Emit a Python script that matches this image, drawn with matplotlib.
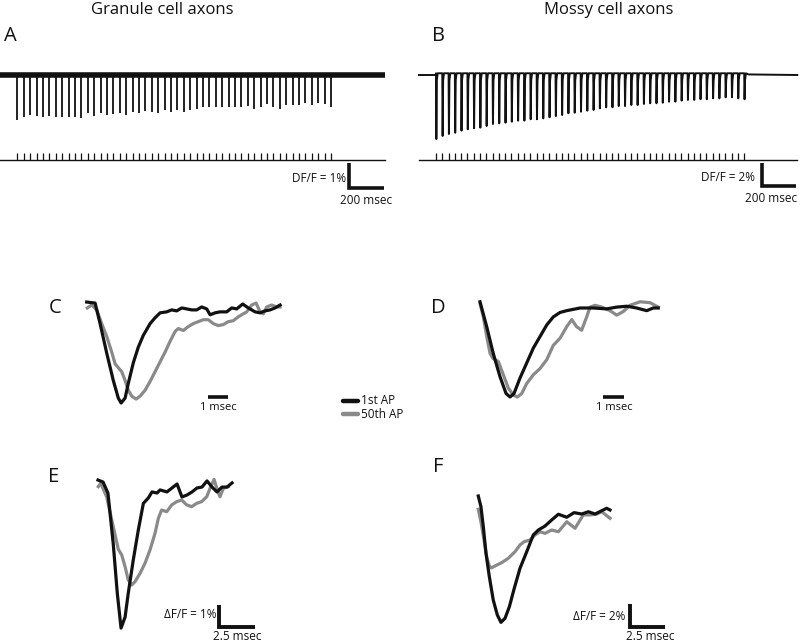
import matplotlib
matplotlib.use("Agg")
import matplotlib.pyplot as plt
import numpy as np

plt.rcParams['font.family'] = ['Open Sans', 'DejaVu Sans']

# ---------------- data ----------------
panel_titles = ["Granule cell axons", "Mossy cell axons"]
panel_letters = ["A", "B", "C", "D", "E", "F"]
legend_labels = ["1st AP", "50th AP"]

ap_interval_ms = 37.0
n_aps = 50
record_window_ms = [-100.0, 2125.0]

# spike amplitudes (% dF/F, downward) in the 50-AP train
granule_amps = [1.80, 1.68, 1.60, 1.64, 1.68, 1.64, 1.68, 1.68, 1.68, 1.68,
                1.72, 1.52, 1.64, 1.52, 1.60, 1.56, 1.52, 1.60, 1.48, 1.52,
                1.44, 1.48, 1.52, 1.40, 1.48, 1.40, 1.48, 1.40, 1.36, 1.28,
                1.28, 1.28, 1.28, 1.28, 1.28, 1.28, 1.24, 1.36, 1.28, 1.16,
                1.28, 1.36, 1.20, 1.20, 1.20, 1.12, 1.20, 1.12, 1.16, 1.28]
mossy_amps = [5.57, 5.30, 5.13, 5.02, 4.84, 4.72, 4.63, 4.58, 4.43, 4.26,
              4.20, 4.15, 4.06, 3.97, 3.97, 3.85, 3.85, 3.77, 3.68, 3.57,
              3.48, 3.33, 3.28, 3.19, 3.10, 3.04, 2.90, 2.81, 2.81, 2.70,
              2.70, 2.61, 2.61, 2.52, 2.46, 2.46, 2.41, 2.32, 2.32, 2.23,
              2.17, 2.17, 2.11, 2.11, 2.03, 2.03, 1.94, 1.94, 2.03, 2.11]

# C: granule cell, normalized (time ms, normalized dF/F)
c_first_t = [0.00, 0.42, 0.67, 1.00, 1.33, 1.58, 1.72, 1.92, 2.08, 2.33, 2.58, 2.83,
             3.17, 3.42, 3.67, 4.00, 4.25, 4.50, 4.75, 5.00, 5.25, 5.50, 5.75, 6.00,
             6.17, 6.42, 6.67, 7.00, 7.25, 7.50, 7.80, 8.08, 8.42, 8.67, 8.92, 9.17,
             9.42, 9.67]
c_first_v = [0.03, 0.02, -0.19, -0.49, -0.77, -0.95, -1.00, -0.95, -0.80, -0.59, -0.43, -0.31,
             -0.19, -0.13, -0.08, -0.07, -0.05, -0.06, -0.03, -0.04, -0.05, -0.05, -0.02, -0.04,
             -0.10, -0.08, -0.07, -0.07, -0.03, -0.04, 0.01, -0.03, -0.07, -0.08, -0.06, -0.05,
             -0.03, 0.00]
c_last_t = [0.03, 0.25, 0.50, 0.75, 1.00, 1.25, 1.42, 1.58, 1.75, 1.92, 2.08, 2.25, 2.47,
            2.67, 2.92, 3.17, 3.42, 3.67, 3.92, 4.17, 4.42, 4.58, 4.83, 5.08, 5.33, 5.58,
            5.83, 6.08, 6.33, 6.58, 6.83, 7.08, 7.33, 7.58, 7.83, 8.00, 8.25, 8.47, 8.67,
            8.83, 9.00, 9.25, 9.50, 9.67]
c_last_v = [-0.03, 0.00, -0.05, -0.19, -0.32, -0.48, -0.60, -0.64, -0.68, -0.77, -0.87, -0.93, -0.96,
            -0.93, -0.87, -0.78, -0.68, -0.58, -0.48, -0.37, -0.27, -0.24, -0.26, -0.22, -0.19, -0.17,
            -0.15, -0.15, -0.19, -0.21, -0.20, -0.17, -0.16, -0.12, -0.09, -0.07, 0.00, 0.02, -0.07,
            -0.09, -0.02, 0.00, -0.02, -0.02]

# D: mossy cell, normalized
d_first_t = [0.00, 0.32, 0.63, 0.95, 1.24, 1.43, 1.62, 1.90, 2.22, 2.54, 2.86, 3.18, 3.49,
             3.81, 4.13, 4.76, 5.40, 6.03, 6.51, 6.99, 7.46, 7.94, 8.25, 8.49]
d_first_v = [0.07, -0.21, -0.51, -0.77, -0.96, -1.00, -0.96, -0.79, -0.62, -0.45, -0.32, -0.19, -0.10,
             -0.05, -0.03, 0.00, 0.00, -0.01, 0.01, 0.02, 0.00, -0.03, 0.00, 0.00]
d_last_t = [0.00, 0.16, 0.32, 0.48, 0.63, 0.87, 1.11, 1.35, 1.59, 1.78, 1.99, 2.22, 2.54,
            2.86, 3.18, 3.49, 3.81, 4.13, 4.37, 4.60, 4.84, 5.08, 5.24, 5.48, 5.80, 6.19,
            6.51, 6.82, 7.14, 7.62, 8.10, 8.49]
d_last_v = [0.05, -0.10, -0.32, -0.51, -0.57, -0.60, -0.75, -0.90, -0.98, -1.00, -0.96, -0.85, -0.75,
            -0.68, -0.58, -0.42, -0.34, -0.21, -0.13, -0.21, -0.25, -0.10, 0.01, 0.03, 0.01, -0.03,
            -0.08, -0.04, 0.03, 0.07, 0.06, 0.01]

# E: granule cell, absolute (% dF/F)
e_first_t = [0.00, 0.35, 0.69, 1.06, 1.34, 1.60, 1.88, 2.10, 2.45, 2.80, 3.15, 3.49, 3.75, 4.10,
             4.31, 4.79, 5.14, 5.49, 5.83, 6.18, 6.53, 6.88, 7.22, 7.57, 7.92, 8.26, 8.61, 8.96, 9.31]
e_first_v = [0.18, 0.09, -0.41, -2.73, -4.97, -6.55, -6.05, -4.97, -3.45, -2.09, -0.88, -0.64, -0.36,
             -0.41, -0.27, -0.36, -0.18, 0.00, -0.59, -0.50, -0.36, -0.18, -0.14, 0.14, -0.14, -0.36,
             -0.14, -0.14, 0.05]
e_last_t = [0.02, 0.19, 0.60, 1.06, 1.41, 1.65, 1.88, 2.10, 2.34, 2.57, 2.92, 3.26, 3.61, 3.96,
            4.19, 4.42, 4.77, 5.12, 5.47, 5.81, 6.16, 6.51, 6.85, 7.20, 7.55, 7.78, 8.06, 8.29,
            8.47, 8.70, 9.05]
e_last_v = [-0.12, 0.03, -0.58, -1.94, -2.97, -3.23, -3.76, -4.36, -4.59, -4.44, -4.06, -3.61, -3.00,
            -2.24, -1.56, -1.18, -1.26, -0.95, -0.80, -0.73, -0.95, -1.03, -0.88, -0.80, -0.58, -0.20,
            0.21, -0.27, -0.58, -0.20, -0.12]

# F: mossy cell, absolute (% dF/F)
f_first_t = [0.02, 0.21, 0.38, 0.57, 0.81, 1.09, 1.38, 1.64, 1.93, 2.24, 2.59, 3.00, 3.48, 3.95,
             4.31, 4.79, 5.26, 5.74, 6.34, 6.86, 7.41, 7.88, 8.36, 8.84, 9.19, 9.43]
f_first_v = [1.22, 0.29, -1.45, -3.77, -5.80, -7.83, -9.13, -9.77, -9.42, -8.41, -6.81, -5.07, -3.63,
             -2.17, -1.74, -1.39, -0.87, -0.37, -0.63, -0.23, -0.35, -0.15, -0.35, -0.06, 0.15, 0.00]
f_last_t = [0.02, 0.21, 0.43, 0.62, 0.81, 0.95, 1.21, 1.69, 2.16, 2.64, 3.00, 3.29, 3.71, 4.07,
            4.43, 4.79, 5.26, 5.74, 6.34, 6.93, 7.52, 8.00, 8.48, 8.84, 9.43]
f_last_v = [0.06, -1.02, -2.61, -4.06, -4.87, -5.04, -4.87, -4.58, -4.20, -3.63, -3.04, -2.76, -2.61,
            -2.17, -1.89, -2.03, -1.74, -1.89, -1.02, -1.59, -0.43, -0.43, -0.35, -0.15, -0.72]

scalebar_train = {"A": (200.0, 1.0, "DF/F = 1%"), "B": (200.0, 2.0, "DF/F = 2%")}
scalebar_zoom = {"C": 1.0, "D": 1.0}
scalebar_abs = {"E": (2.5, 1.0, "\u0394F/F = 1%"), "F": (2.5, 2.0, "\u0394F/F = 2%")}

# ---------------- layout ----------------
W, H = 800, 642
fig = plt.figure(figsize=(W / 100, H / 100), dpi=100)
BLACK = "#111111"
GRAY = "#8a8a8a"


class Panel:
    """Axes placed in pixel box; data origin at pixel (x0, y0) with sx, sy px per unit."""
    def __init__(self, box, x0, y0, sx, sy):
        left, top, width, height = box
        self.ax = fig.add_axes([left / W, 1 - (top + height) / H, width / W, height / H])
        self.ax.set_xlim((left - x0) / sx, (left + width - x0) / sx)
        self.ax.set_ylim((y0 - (top + height)) / sy, (y0 - top) / sy)
        self.ax.axis("off")
        self.x0, self.y0, self.sx, self.sy = x0, y0, sx, sy

    def dx(self, px):
        return (px - self.x0) / self.sx

    def dy(self, py):
        return (self.y0 - py) / self.sy


def ftext(x, y, s, size, ha="center", va="center", **kw):
    fig.text(x / W, 1 - y / H, s, fontsize=size, ha=ha, va=va, color=BLACK, **kw)


# titles and letters
ftext(162, 10, panel_titles[0], 12)
ftext(609, 10, panel_titles[1], 12)
letter_pos = {"A": (10, 36), "B": (438, 36), "C": (55, 308), "D": (438, 308),
              "E": (54, 477), "F": (438, 467)}
for k in panel_letters:
    ftext(*letter_pos[k], k, 14.5)

spike_times = np.arange(n_aps) * ap_interval_ms


def train_panel(pan, amps, kind, sb_key, sb_corner, sb_text_right, sb_text_y, ms_label_x, ms_label_y,
                stim_px, stim_line_px, ms_ha="center"):
    ax = pan.ax
    if kind == "vlines":
        ax.plot(record_window_ms, [0, 0], color=BLACK, lw=4.0, solid_capstyle="butt", clip_on=False)
        ax.vlines(spike_times, -0.08, -np.array(amps), color=BLACK, lw=1.3, clip_on=False)
    else:
        tt, vv = [record_window_ms[0], -2.0], [0.0, 0.0]
        for ti, ai in zip(spike_times, amps):
            tt += [ti, ti + 2.0, ti + 5.0, ti + 10.0]
            vv += [0.15, -ai, -0.45, 0.15]
        tt += [spike_times[-1] + 25.0, record_window_ms[1]]
        vv += [0.05, 0.0]
        ax.plot(tt, vv, color=BLACK, lw=1.4, clip_on=False)
    # stimulus row
    ys_top, ys_bot = pan.dy(stim_px), pan.dy(stim_line_px)
    ax.plot(record_window_ms, [ys_bot, ys_bot], color=BLACK, lw=1.0, clip_on=False)
    ax.vlines(spike_times, ys_bot, ys_top, color=BLACK, lw=0.9, clip_on=False)
    # scale bar
    t_len, v_len, label = scalebar_train[sb_key]
    cx, cy = pan.dx(sb_corner[0]), pan.dy(sb_corner[1])
    ax.plot([cx, cx, cx + t_len], [cy + v_len, cy, cy], color=BLACK, lw=2.6,
            solid_joinstyle="miter", solid_capstyle="butt", clip_on=False)
    ftext(sb_text_right, sb_text_y, label, 8.5, ha="right")
    ftext(ms_label_x, ms_label_y, "%d msec" % t_len, 8.5, ha=ms_ha)


pA = Panel((0, 55, 400, 160), x0=17.3, y0=75, sx=6.40 / ap_interval_ms, sy=25)
train_panel(pA, granule_amps, "vlines", "A", (349, 188), 346, 179, 366, 200, 153, 160)

pB = Panel((410, 55, 390, 160), x0=436, y0=75, sx=6.29 / ap_interval_ms, sy=11.5)
train_panel(pB, mossy_amps, "hook", "B", (762, 186), 755, 178, 797, 199, 153, 160, ms_ha="right")


def zoom_panel(pan, t1, v1, t2, v2):
    ax = pan.ax
    ax.plot(t2, v2, color=GRAY, lw=2.3, solid_joinstyle="round", clip_on=False)
    ax.plot(t1, v1, color=BLACK, lw=2.3, solid_joinstyle="round", clip_on=False)


pC = Panel((70, 290, 230, 130), x0=86.7, y0=305, sx=20, sy=98)
zoom_panel(pC, c_first_t, c_first_v, c_last_t, c_last_v)
pC.ax.plot([pC.dx(208), pC.dx(208) + scalebar_zoom["C"]], [pC.dy(397)] * 2, color=BLACK, lw=2.6,
           solid_capstyle="butt", clip_on=False)
ftext(218, 408, "%d msec" % scalebar_zoom["C"], 8)

pD = Panel((460, 290, 230, 130), x0=480, y0=308, sx=21, sy=89)
zoom_panel(pD, d_first_t, d_first_v, d_last_t, d_last_v)
pD.ax.plot([pD.dx(603), pD.dx(603) + scalebar_zoom["D"]], [pD.dy(397)] * 2, color=BLACK, lw=2.6,
           solid_capstyle="butt", clip_on=False)
ftext(614, 408, "%d msec" % scalebar_zoom["D"], 8)

pE = Panel((70, 460, 230, 180), x0=98, y0=484, sx=14.4, sy=22)
zoom_panel(pE, e_first_t, e_first_v, e_last_t, e_last_v)
pF = Panel((450, 450, 250, 190), x0=478, y0=510, sx=14, sy=11.5)
zoom_panel(pF, f_first_t, f_first_v, f_last_t, f_last_v)

for pan, key, corner, tr, ty, mx in [(pE, "E", (219, 627), 216, 615, 237),
                                     (pF, "F", (630, 627), 625, 616, 650)]:
    t_len, v_len, label = scalebar_abs[key]
    cx, cy = pan.dx(corner[0]), pan.dy(corner[1])
    pan.ax.plot([cx, cx, cx + t_len], [cy + v_len, cy, cy], color=BLACK, lw=2.8,
                solid_joinstyle="miter", solid_capstyle="butt", clip_on=False)
    ftext(tr, ty, label, 8.5, ha="right")
    ftext(mx, 636, "%.1f msec" % t_len, 8.5)

# legend
leg_ax = fig.add_axes([0, 0, 1, 1])
leg_ax.set_xlim(0, W)
leg_ax.set_ylim(H, 0)
leg_ax.axis("off")
for lab, col, y in [(legend_labels[0], BLACK, 401), (legend_labels[1], GRAY, 414)]:
    leg_ax.plot([343, 358], [y, y], color=col, lw=3.2, solid_capstyle="round")
    ftext(361, y, lab, 8.5, ha="left")

fig.savefig("out.png", dpi=100)
